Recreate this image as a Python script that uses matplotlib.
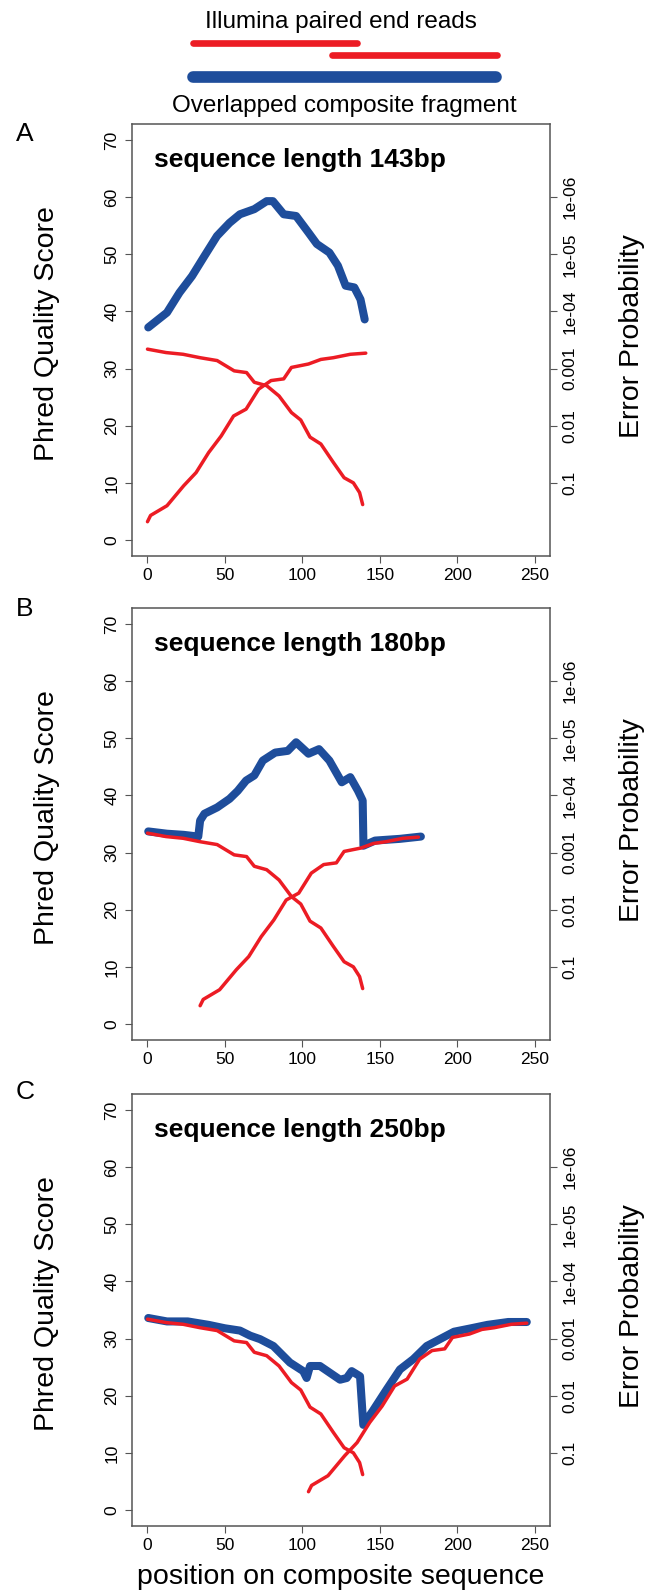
import matplotlib
matplotlib.use("Agg")
import matplotlib.pyplot as plt

plt.rcParams["font.family"] = ["Liberation Sans", "DejaVu Sans"]

RED = "#ec1c24"
BLUE = "#1e4d9b"
GREY = "#555555"

# read 1 (forward read) quality, by position on composite sequence
read1_pos = [0, 12, 23, 34, 45, 56, 64, 69, 77, 85, 93, 99, 105, 112, 120, 127, 133, 137, 139]
read1_q = [33.4, 32.8, 32.5, 31.9, 31.4, 29.6, 29.3, 27.6, 27.0, 25.2, 22.3, 21.0,
           18.0, 16.8, 13.6, 10.9, 10.0, 8.3, 6.2]

# read 2 (reverse read) quality, by position from the read start
read2_rel = [0, 2, 12.6, 23.4, 31.4, 39.5, 47.6, 55.6, 63.7, 71.8, 79.8, 88, 93,
             104, 112, 120, 131, 141]
read2_q = [3.2, 4.3, 6.0, 9.5, 11.8, 15.3, 18.2, 21.7, 22.9, 26.4, 27.9, 28.2,
           30.2, 30.8, 31.6, 31.9, 32.5, 32.7]
read2_start = [0, 34, 104]

# overlapped composite fragment quality, one series per panel
comp_a_pos = [0.5, 7, 12.6, 20.7, 28.8, 36.8, 44.9, 53, 59.7, 69, 77, 81, 88, 96,
              104, 109.4, 117.5, 123, 128, 133.6, 137.6, 140.3]
comp_a_q = [37.2, 38.6, 39.8, 43.3, 46.2, 49.7, 53.2, 55.5, 57.0, 57.9, 59.3, 59.3,
            57.0, 56.7, 53.8, 51.8, 50.3, 48.0, 44.5, 44.2, 42.1, 38.6]

comp_b_pos = [0.5, 12.6, 23.4, 32.8, 34, 36.8, 45, 53, 58.3, 63.7, 69, 74.5, 82.5,
              90.6, 96, 104, 110.8, 117.5, 125.5, 131, 136, 139, 139.5, 147, 163, 176.6]
comp_b_q = [33.7, 33.3, 33.1, 32.8, 35.6, 36.8, 37.9, 39.4, 40.8, 42.6, 43.5, 46.1,
            47.5, 47.8, 49.3, 47.3, 48.1, 46.1, 42.3, 43.2, 40.8, 39.1, 31.2, 32.1,
            32.4, 32.8]

comp_c_pos = [0.5, 12.6, 26, 39.5, 50, 59.7, 66.4, 72.7, 81.3, 92, 100.6, 102.8, 105,
              111.4, 117.9, 124.4, 128.7, 131.9, 137.3, 139.4, 145.9, 154.5, 163.1,
              171.7, 180.4, 186.8, 198, 209, 219.6, 233, 245]
comp_c_q = [33.6, 33.0, 33.0, 32.4, 31.8, 31.4, 30.5, 29.9, 28.7, 25.8, 24.3, 23.1,
            25.2, 25.2, 24.0, 22.8, 23.1, 24.3, 23.4, 14.9, 17.5, 21.1, 24.6, 26.4,
            28.7, 29.6, 31.2, 31.8, 32.4, 32.9, 32.9]

comp_pos = [comp_a_pos, comp_b_pos, comp_c_pos]
comp_q = [comp_a_q, comp_b_q, comp_c_q]
seq_lengths = [143, 180, 250]
panel_letters = ["A", "B", "C"]

qual_ticks = [0, 10, 20, 30, 40, 50, 60, 70]
err_ticks = [10, 20, 30, 40, 50, 60]
err_labels = ["0.1", "0.01", "0.001", "1e-04", "1e-05", "1e-06"]
pos_ticks = [0, 50, 100, 150, 200, 250]

W, H = 653, 1595
fig = plt.figure(figsize=(W / 100, H / 100), dpi=100)

# schematic of the reads at the top (figure pixel coordinates)
top = fig.add_axes([0, 0, 1, 1], zorder=-1)
top.set_xlim(0, W)
top.set_ylim(H, 0)
top.axis("off")
top.plot([193, 357], [42.7, 42.7], color=RED, lw=4.8, solid_capstyle="round")
top.plot([332, 497], [55, 55], color=RED, lw=4.8, solid_capstyle="round")
top.plot([193, 496], [77, 77], color=BLUE, lw=8.4, solid_capstyle="round")
top.text(341, 22, "Illumina paired end reads", fontsize=17.5, ha="center", va="center")
top.text(344, 106, "Overlapped composite fragment", fontsize=17.5, ha="center", va="center")

box_left, box_w, box_h = 132, 418, 432
box_tops = [124, 608, 1094]
letter_y = [134, 609, 1092]

for i in range(3):
    t = box_tops[i]
    ax = fig.add_axes([box_left / W, (H - t - box_h) / H, box_w / W, box_h / H])
    ax.set_xlim(-10, 260)
    ax.set_ylim(-2.8, 72.8)

    ax.plot(comp_pos[i], comp_q[i], color=BLUE, lw=5.8,
            solid_capstyle="round", solid_joinstyle="round")
    ax.plot(read1_pos, read1_q, color=RED, lw=2.5,
            solid_capstyle="round", solid_joinstyle="round")
    ax.plot([p + read2_start[i] for p in read2_rel], read2_q, color=RED, lw=2.5,
            solid_capstyle="round", solid_joinstyle="round")

    for s in ax.spines.values():
        s.set_color(GREY)
        s.set_linewidth(1.1)
    ax.set_xticks(pos_ticks)
    ax.set_yticks(qual_ticks)
    ax.tick_params(direction="out", length=5, width=0.8, color=GREY,
                   labelsize=12.5, pad=4)
    for lab in ax.get_yticklabels():
        lab.set_rotation(90)
        lab.set_va("center")

    ax2 = ax.twinx()
    ax2.set_ylim(-2.8, 72.8)
    ax2.set_yticks(err_ticks)
    ax2.set_yticklabels(err_labels)
    ax2.tick_params(direction="out", length=5, width=0.8, color=GREY,
                    labelsize=12.5, pad=4)
    for lab in ax2.get_yticklabels():
        lab.set_rotation(90)
        lab.set_va("center")
    for s in ax2.spines.values():
        s.set_visible(False)

    ax.text(0.0527, 0.917, f"sequence length {seq_lengths[i]}bp", transform=ax.transAxes,
            fontsize=19, fontweight="bold", ha="left", va="center")
    ax.text(-0.2033, 0.515, "Phred Quality Score", transform=ax.transAxes,
            fontsize=20.5, rotation=90, ha="center", va="center")
    ax.text(1.195, 0.51, "Error Probability", transform=ax.transAxes,
            fontsize=20.5, rotation=90, ha="center", va="center")
    fig.text(25 / W, 1 - letter_y[i] / H, panel_letters[i], fontsize=19,
             ha="center", va="center")

    if i == 2:
        ax.text(0.5, -0.118, "position on composite sequence", transform=ax.transAxes,
                fontsize=20.5, ha="center", va="center")

fig.savefig("out.png", dpi=100)
